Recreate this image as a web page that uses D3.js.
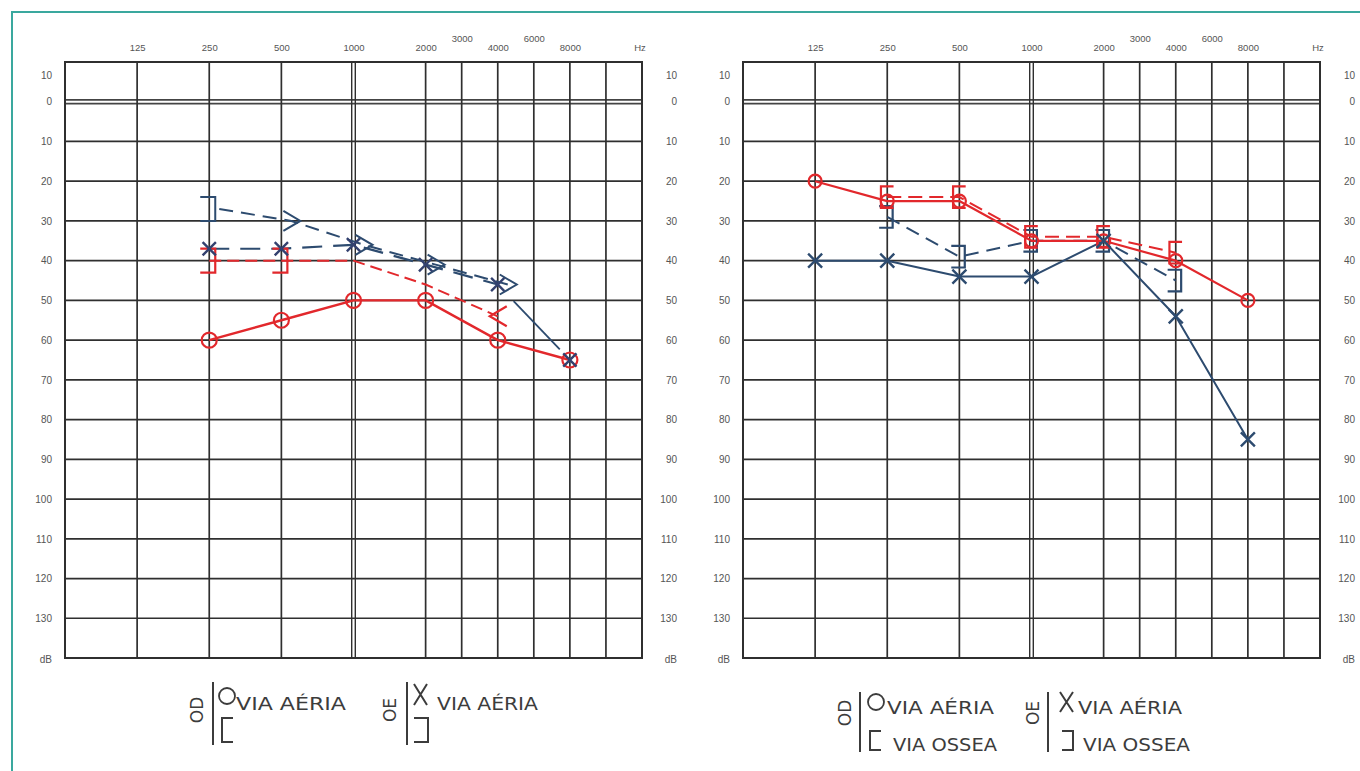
<!DOCTYPE html>
<html>
<head>
<meta charset="utf-8">
<script src="https://cdn.jsdelivr.net/npm/d3@7"></script>
<style>
  html, body { margin: 0; padding: 0; background: #fff; }
  svg { display: block; }
  text { font-family: "Liberation Sans", "DejaVu Sans", sans-serif; }
</style>
</head>
<body>
<svg id="chart" width="1360" height="771"></svg>
<script>
// ---------------- DATA ----------------
const freqTickLabels = ["125", "250", "500", "1000", "2000", "3000", "4000", "6000", "8000"];
const gridFreqs = [125, 250, 500, 1000, 2000, 3000, 4000, 6000, 8000, 12000];
const dbTicks = [0, 10, 20, 30, 40, 50, 60, 70, 80, 90, 100, 110, 120, 130];

// Left audiogram
const leftAirFreqs = [250, 500, 1000, 2000, 4000, 8000];
const leftODAir = [60, 55, 50, 50, 60, 65];          // red circles
const leftOEAir = [37, 37, 36, 41, 46, 65];          // blue X
const leftBoneFreqs = [250, 500, 1000, 2000, 4000];
const leftOEBone = [27, 30, 36, 41, 46];             // blue bone
const leftOEBoneSymbols = ["]", ">", ">", ">", ">"];
const leftODBone = [40, 40, 40, 46, 54];             // red bone
const leftODBoneSymbols = ["]", "]", "", "", "<"];

// Right audiogram
const rightAirFreqs = [125, 250, 500, 1000, 2000, 4000, 8000];
const rightODAir = [20, 25, 25, 35, 35, 40, 50];     // red circles
const rightOEAir = [40, 40, 44, 44, 35, 54, 85];     // blue X
const rightBoneFreqs = [250, 500, 1000, 2000, 4000];
const rightODBone = [24, 24, 34, 34, 38];            // red "["
const rightOEBone = [29, 39, 35, 35, 45];            // blue "]"

// Legend texts
const legendAir = "VIA AÉRIA";
const legendBone = "VIA OSSEA";
const legendOD = "OD";
const legendOE = "OE";

// ---------------- DRAWING ----------------
const RED = "#e2282c";
const BLUE = "#2d4b6f";
const GRID = "#2f2f2f";
const LABEL = "#555";

const svg = d3.select("#chart");

// teal frame
svg.append("path")
  .attr("d", "M12,771 V12 H1360")
  .attr("fill", "none").attr("stroke", "#3aa89e").attr("stroke-width", 2);

const octIdx = f => Math.round(Math.log2(f / 62.5) * 2) / 2;

function makeChart(x0, x1) {
  const g = svg.append("g");
  const xs = d3.scaleLinear().domain([0, 8]).range([x0, x1]);
  const x = f => xs(octIdx(f));
  const y = d3.scaleLinear().domain([-10, 140]).range([62, 658]);

  // horizontal grid
  g.selectAll("line.h").data(dbTicks.filter(d => d !== 0)).join("line")
    .attr("x1", x0).attr("x2", x1).attr("y1", d => y(d)).attr("y2", d => y(d))
    .attr("stroke", GRID).attr("stroke-width", 1.7);
  // double 0 line
  [-1.8, 1.8].forEach(o => g.append("line")
    .attr("x1", x0).attr("x2", x1).attr("y1", y(0) + o).attr("y2", y(0) + o)
    .attr("stroke", "#444").attr("stroke-width", 1.8));
  // vertical grid
  gridFreqs.forEach(f => {
    const offs = f === 1000 ? [-1.8, 1.8] : [0];
    offs.forEach(o => g.append("line")
      .attr("x1", x(f) + o).attr("x2", x(f) + o).attr("y1", y(-10)).attr("y2", y(140))
      .attr("stroke", GRID).attr("stroke-width", f === 1000 ? 1.4 : 1.7));
  });
  // border
  g.append("rect").attr("x", x0).attr("y", y(-10)).attr("width", x1 - x0).attr("height", y(140) - y(-10))
    .attr("fill", "none").attr("stroke", GRID).attr("stroke-width", 2);

  // y axis labels (left & right) via d3 axes
  const fmt = d => String(d);
  const axL = g.append("g").attr("transform", `translate(${x0 - 13},0)`)
    .call(d3.axisLeft(y).tickValues(dbTicks).tickSize(0).tickPadding(0).tickFormat(fmt));
  const axR = g.append("g").attr("transform", `translate(${x1 + 35},0)`)
    .call(d3.axisLeft(y).tickValues(dbTicks).tickSize(0).tickPadding(0).tickFormat(fmt));
  [axL, axR].forEach(ax => {
    ax.select(".domain").remove();
    ax.selectAll("text").attr("fill", LABEL).style("font-size", "10px")
      .style("font-family", "'Liberation Sans', sans-serif");
    ax.append("text").attr("x", 0).attr("y", y(-6.5)).attr("dy", "0.32em")
      .attr("text-anchor", "end").attr("fill", LABEL).style("font-size", "10px").text("10");
    ax.append("text").attr("x", 0).attr("y", y(140) + 2).attr("dy", "0.32em")
      .attr("text-anchor", "end").attr("fill", LABEL).style("font-size", "10px").text("dB");
  });

  // frequency labels via axisTop
  const fAxis = g.append("g").attr("transform", "translate(0,50)")
    .call(d3.axisTop(xs).tickValues(freqTickLabels.map(l => octIdx(+l)))
      .tickSize(0).tickPadding(0)
      .tickFormat((d, i) => freqTickLabels[i]));
  fAxis.select(".domain").remove();
  fAxis.selectAll("text").attr("fill", LABEL).style("font-size", "9.5px")
    .style("font-family", "'Liberation Sans', sans-serif")
    .attr("dy", (d, i) => (freqTickLabels[i] === "3000" || freqTickLabels[i] === "6000") ? "-0.85em" : "0.1em");
  g.append("text").attr("x", x1 - 2).attr("y", 50).attr("dy", "0.1em").attr("text-anchor", "middle")
    .attr("fill", LABEL).style("font-size", "9.5px").text("Hz");

  return { g, x, y };
}

function pts(freqs, vals, c) { return freqs.map((f, i) => [c.x(f), c.y(vals[i])]); }

function drawLine(c, points, color, width, dash) {
  c.g.append("path").attr("d", d3.line()(points)).attr("fill", "none")
    .attr("stroke", color).attr("stroke-width", width)
    .attr("stroke-dasharray", dash || null).attr("stroke-linejoin", "round");
}

function symbolPath(sym, px, py, s) {
  switch (sym) {
    case "]": return `M${px - 9 * s},${py - 12 * s} H${px + 6 * s} V${py + 12 * s} H${px - 9 * s}`;
    case "[": return `M${px + 7 * s},${py - 12 * s} H${px - 7 * s} V${py + 12 * s} H${px + 7 * s}`;
    case ">": return `M${px + 2 * s},${py - 10 * s} L${px + 19 * s},${py} L${px + 2 * s},${py + 10 * s}`;
    case "<": return `M${px + 9 * s},${py - 10 * s} L${px - 8 * s},${py} L${px + 9 * s},${py + 10 * s}`;
    case "x": return `M${px - 7 * s},${py - 7 * s} L${px + 7 * s},${py + 7 * s} M${px + 7 * s},${py - 7 * s} L${px - 7 * s},${py + 7 * s}`;
    default: return "";
  }
}

function drawSymbols(c, points, syms, color, width, s) {
  c.g.selectAll(null).data(points).join("path")
    .attr("d", (p, i) => symbolPath(typeof syms === "string" ? syms : syms[i], p[0], p[1], s))
    .attr("fill", "none").attr("stroke", color).attr("stroke-width", width);
}

function drawCircles(c, points, color, r, width) {
  c.g.selectAll(null).data(points).join("circle")
    .attr("cx", p => p[0]).attr("cy", p => p[1]).attr("r", r)
    .attr("fill", "none").attr("stroke", color).attr("stroke-width", width);
}

// ---- Left chart ----
const L = makeChart(65, 642);
{
  const odAir = pts(leftAirFreqs, leftODAir, L);
  const oeAir = pts(leftAirFreqs, leftOEAir, L);
  const oeBone = pts(leftBoneFreqs, leftOEBone, L);
  const odBone = pts(leftBoneFreqs, leftODBone, L);

  drawLine(L, odBone, RED, 2, "12 6");
  drawLine(L, oeBone.map(p => [p[0] + 10, p[1]]), BLUE, 2, "14 8");
  // OE air: dashed up to 4000 Hz, last segment solid
  drawLine(L, oeAir.slice(0, 5), BLUE, 2.2, "20 11");
  const a = oeAir[4], b = oeAir[5];
  const t0 = 0.22, t1 = 0.86;
  drawLine(L, [[a[0] + (b[0] - a[0]) * t0, a[1] + (b[1] - a[1]) * t0],
               [a[0] + (b[0] - a[0]) * t1, a[1] + (b[1] - a[1]) * t1]], BLUE, 1.8);
  drawLine(L, odAir, RED, 2.4);

  drawSymbols(L, odBone, leftODBoneSymbols, RED, 2.2, 1);
  drawSymbols(L, oeBone, leftOEBoneSymbols, BLUE, 2, 1);
  drawCircles(L, odAir, RED, 7.5, 2.2);
  drawSymbols(L, oeAir, "x", "#33416f", 2.4, 0.95);
}

// ---- Right chart ----
const R = makeChart(743, 1320);
{
  const odAir = pts(rightAirFreqs, rightODAir, R);
  const oeAir = pts(rightAirFreqs, rightOEAir, R);
  const odBone = pts(rightBoneFreqs, rightODBone, R);
  const oeBone = pts(rightBoneFreqs, rightOEBone, R);

  drawLine(R, oeBone, BLUE, 2, "14 8");
  drawLine(R, odBone, RED, 2, "14 7");
  drawLine(R, oeAir, BLUE, 2);
  drawLine(R, odAir, RED, 2.2);

  drawSymbols(R, oeBone, "]", BLUE, 2.2, 0.9);
  drawSymbols(R, odBone, "[", RED, 2.2, 0.9);
  drawCircles(R, odAir, RED, 6.5, 2.2);
  drawSymbols(R, oeAir, "x", BLUE, 2.4, 1);
}

// ---- Legends ----
const LG = "#3c3c3c";
function addText(x, y, str, len, size) {
  svg.append("text").attr("x", x).attr("y", y).attr("fill", LG)
    .style("font-size", size + "px").style("font-family", "'DejaVu Sans', sans-serif")
    .attr("textLength", len).attr("lengthAdjust", "spacingAndGlyphs").text(str);
}
function addRot(x, y, str) {
  svg.append("text").attr("transform", `translate(${x},${y}) rotate(-90)`)
    .attr("text-anchor", "middle").attr("dy", "0.35em").attr("fill", LG)
    .style("font-size", "17px").style("font-family", "'DejaVu Sans', sans-serif").text(str);
}
function bar(x, y1, y2) {
  svg.append("line").attr("x1", x).attr("x2", x).attr("y1", y1).attr("y2", y2)
    .attr("stroke", LG).attr("stroke-width", 2);
}
function pathL(d) {
  svg.append("path").attr("d", d).attr("fill", "none").attr("stroke", LG).attr("stroke-width", 2);
}

// Left legend (air only)
addRot(197, 710, legendOD);
bar(213, 682, 745);
svg.append("circle").attr("cx", 227).attr("cy", 696).attr("r", 8).attr("fill", "none").attr("stroke", LG).attr("stroke-width", 1.8);
addText(236, 710, legendAir, 110, 17);
pathL("M233,718 H222 V742 H233");

addRot(390, 710, legendOE);
bar(407, 682, 745);
pathL("M414,684 L427,705 M427,684 L414,705");
addText(437, 710, legendAir, 101, 17);
pathL("M414,718 H428 V742 H414");

// Right legend (air + bone)
addRot(845, 713, legendOD);
bar(860, 692, 752);
svg.append("circle").attr("cx", 876).attr("cy", 702).attr("r", 8).attr("fill", "none").attr("stroke", LG).attr("stroke-width", 1.8);
addText(887, 714, legendAir, 107, 17);
pathL("M881,731 H870 V750 H881");
addText(893, 751, legendBone, 104, 17);

addRot(1033, 713, legendOE);
bar(1048, 692, 752);
pathL("M1060,692 L1073,712 M1073,692 L1060,712");
addText(1078, 714, legendAir, 104, 17);
pathL("M1062,731 H1073 V750 H1062");
addText(1083, 751, legendBone, 107, 17);
</script>
</body>
</html>
